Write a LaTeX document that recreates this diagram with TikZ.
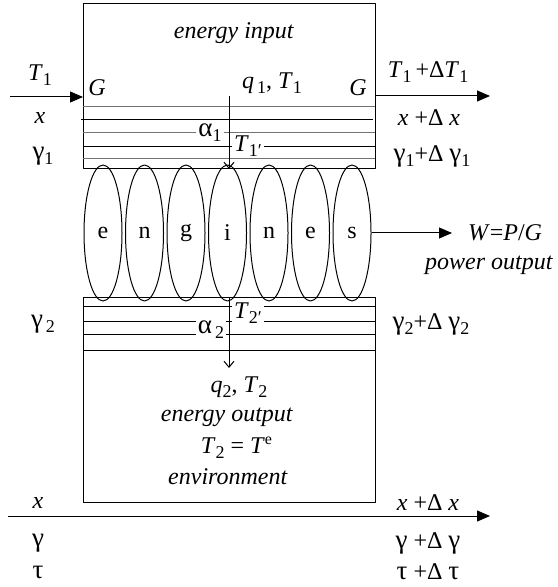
\documentclass[tikz,border=0pt]{standalone}
\usepackage{fontspec}
\setmainfont{Liberation Serif}
\usetikzlibrary{arrows.meta,shapes.geometric}
\tikzset{px/.style={
  x=0.5pt,y=-0.5pt,line width=0.5pt,
  font=\fontsize{12pt}{14pt}\selectfont,
  line join=round
}}
\tikzset{
  engine/.style={draw,ellipse,minimum width=19pt,minimum height=68pt,inner sep=0pt},
  layer/.style={black!55},
  tag/.style={fill=white,inner sep=1pt},
  flow/.style={-{Triangle[length=6.5pt,width=5.5pt]}},
  heat/.style={-{Straight Barb[length=3pt,width=5pt]}}
}
\newcommand{\sbs}[1]{\raisebox{-0.45ex}{\fontsize{9pt}{10pt}\selectfont #1}}
\newcommand{\gk}[1]{{\fontsize{13.5pt}{14pt}\selectfont #1}}
\newcommand{\Tsub}[1]{\textit{T}\sbs{#1}}
\newcommand{\gsub}[1]{\gk{γ}\sbs{#1}}

\begin{document}
\begin{tikzpicture}[px]
  \useasboundingbox (0,0) rectangle (557,587);
  \coordinate (hotNW) at (83,4);
  \coordinate (hotSE) at (375,169);
  \coordinate (coldNW) at (83,297);
  \coordinate (coldSE) at (375,502);

  % reservoirs and their layers
  \draw (hotNW) rectangle (hotSE);
  \draw (coldNW) rectangle (coldSE);
  \foreach \y in {107,133,159}
    \draw[layer] (83,\y) -- (375,\y);
  \draw (81,120) -- (373,120);
  \draw (83,147) -- (375,147);
  \foreach \y in {306,321,334,350}
    \draw (83,\y) -- (375,\y);

  \foreach \l [count=\i] in {e,n,g,i,n,e,s}
    \node[engine] (e\i) at ({61.5+41.5*\i},233) {\l};

  \node (inlbl) at (234,33) {\textit{energy input}};
  \node (q1) at (272,83) {\textit{q}\sbs{\,1}, \Tsub{1}};
  \node (gl) at (97,88) {\textit{G}};
  \node (gr) at (358,88) {\textit{G}};
  \node (t1) at (40,75) {\Tsub{1}};
  \node (t1d) at (428,72) {\Tsub{1}\,+Δ\Tsub{1}};
  \node (x1) at (40,118) {\textit{x}};
  \node (x1d) at (429,118) {\textit{x} +Δ \textit{x}};
  \node (g1) at (43,156) {\gsub{1}};
  \node (g1d) at (432,156) {\gsub{1}+Δ \gsub{1}};
  \node[tag] (a1) at (210,133) {\gk{α}\sbs{1}};
  \node[tag] (t1p) at (248,146) {\Tsub{1′}};

  \node[tag] (t2p) at (248,313) {\Tsub{2′}};
  \node[tag] (a2) at (211,330) {\gk{α}\sbs{\,2}};
  \node (g2) at (43,324) {\gsub{\,2}};
  \node (g2d) at (431,324) {\gsub{2}+Δ \gsub{2}};
  \node (q2) at (239,387) {\textit{q}\sbs{2}, \Tsub{2}};
  \node (outlbl) at (227,417) {\textit{energy output}};
  \node (t2e) at (237,448) {\Tsub{2} = \textit{T}\textsuperscript{e}};
  \node (env) at (228,477) {\textit{environment}};

  \node (wlbl) at (505,233) {\textit{W}=\textit{P}/\textit{G}};
  \node (pwr) at (489,265) {\textit{power output}};

  \node (x) at (38,503) {\textit{x}};
  \node (xd) at (428,503) {\textit{x} +Δ \textit{x}};
  \node (g) at (38,543) {\gk{γ}};
  \node (gd) at (428,543) {\gk{γ} +Δ \gk{γ}};
  \node (tau) at (38,572) {\gk{τ}};
  \node (taud) at (428,572) {\gk{τ} +Δ \gk{τ}};

  % flows
  \coordinate (inS) at (10,97);
  \coordinate (inG) at (83,97);
  \coordinate (outG) at (375,96);
  \coordinate (outE) at (490,96);
  \coordinate (wE) at (452,233);
  \coordinate (q1a) at (229,96);
  \coordinate (q1b) at (229,169);
  \coordinate (q2a) at (229,297);
  \coordinate (q2b) at (229,368);
  \coordinate (axS) at (8,516);
  \coordinate (axE) at (490,516);
  \draw[flow] (inS) -- (inG);
  \draw[flow] (outG) -- (outE);
  \draw[flow] (e7.east) -- (wE);
  \draw[heat] (q1a) -- (q1b);
  \draw[heat] (q2a) -- (q2b);
  \draw[flow] (axS) -- (axE);
\end{tikzpicture}
\end{document}
